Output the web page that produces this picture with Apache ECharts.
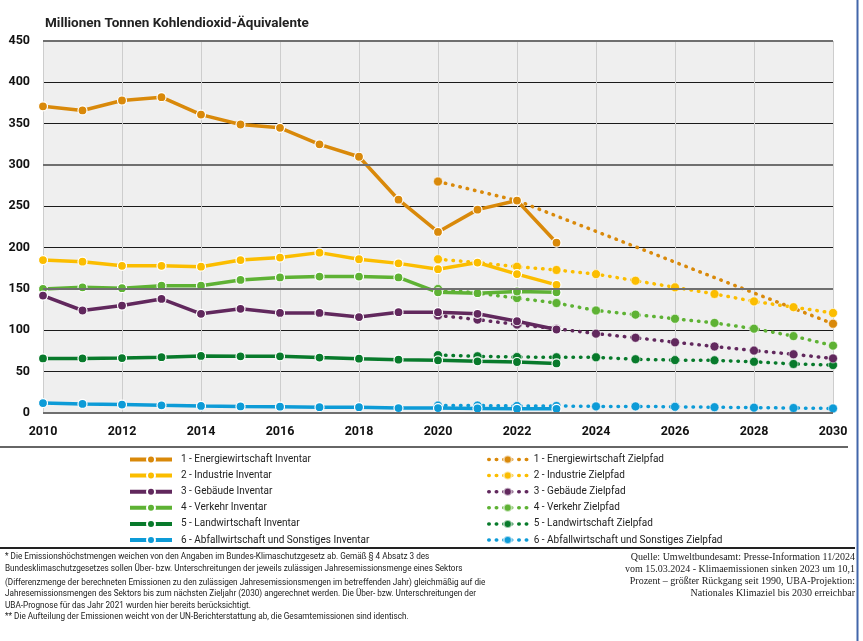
<!DOCTYPE html>
<html>
<head>
<meta charset="utf-8">
<script src="https://cdn.jsdelivr.net/npm/echarts@6/dist/echarts.min.js"></script>
<style>
  html, body { margin: 0; padding: 0; background: #fff; }
  #chart { width: 863px; height: 641px; }
</style>
</head>
<body>
<div id="chart"></div>
<script>
// Jahre (Kategorien)
var years = ['2010','2011','2012','2013','2014','2015','2016','2017','2018','2019','2020',
             '2021','2022','2023','2024','2025','2026','2027','2028','2029','2030'];

// Inventar 2010-2023
var energieInv = [371, 366, 378, 382, 361, 349, 345, 325, 310, 258, 219, 246, 257, 206];
var industrieInv = [185, 183, 178, 178, 177, 185, 188, 194, 186, 181, 174, 182, 168, 155];
var gebaeudeInv = [142, 124, 130, 138, 120, 126, 121, 121, 116, 122, 122, 120, 111, 101];
var verkehrInv = [150, 152, 151, 154, 154, 161, 164, 165, 165, 164, 146, 145, 147, 146];
var landwInv = [66, 66, 66.5, 67.5, 69, 68.6, 68.6, 67, 65.7, 64.5, 63.7, 62.5, 61.7, 60];
var abfallInv = [12, 11, 10.2, 9.3, 8.5, 8, 7.7, 7, 7, 6, 6, 5.5, 5, 5];

// Zielpfad 2020-2030 (null = kein Wert, davor 2010-2019 leer)
var energieZiel = [280, null, 257, null, null, null, null, null, null, null, 108];
var industrieZiel = [186, 182, 177, 173, 168, 160, 152, 144, 135, 128, 121];
var gebaeudeZiel = [118, 113, 107, 102, 96, 91, 85.5, 80.5, 75.5, 71, 66];
var verkehrZiel = [150, 145, 139, 133, 124, 119, 114, 109, 102, 93, 81.5];
var landwZiel = [70, 68.6, 67.7, 67.4, 67.4, 65, 64, 63.7, 62, 59.3, 58];
var abfallZiel = [9, 9, 8.5, 8.5, 8, 8, 7.5, 7, 6.5, 6, 5.5];

var colors = ['#d9890a', '#fbbd00', '#61285d', '#5eb234', '#087a2b', '#0d9bd7'];
var invNames = ['1 - Energiewirtschaft Inventar', '2 - Industrie Inventar', '3 - Gebäude Inventar',
                '4 - Verkehr Inventar', '5 - Landwirtschaft Inventar', '6 - Abfallwirtschaft und Sonstiges Inventar'];
var zielNames = ['1 - Energiewirtschaft Zielpfad', '2 - Industrie Zielpfad', '3 - Gebäude Zielpfad',
                 '4 - Verkehr Zielpfad', '5 - Landwirtschaft Zielpfad', '6 - Abfallwirtschaft und Sonstiges Zielpfad'];
var invData = [energieInv, industrieInv, gebaeudeInv, verkehrInv, landwInv, abfallInv];
var zielData = [energieZiel, industrieZiel, gebaeudeZiel, verkehrZiel, landwZiel, abfallZiel];

var font = 'Roboto, sans-serif';

var series = [];
// kräftige Gitterlinien bei 0/150/300/450
series.push({
    name: 'grid', type: 'line', data: [], z: 1, silent: true,
    markLine: {
        silent: true, symbol: 'none', label: { show: false },
        lineStyle: { color: '#6f6f6f', width: 2, type: 'solid' },
        data: [{ yAxis: 0 }, { yAxis: 150 }, { yAxis: 300 }, { yAxis: 450 }]
    }
});
for (var i = 5; i >= 0; i--) {
    var zd = [];
    for (var k = 0; k < 10; k++) zd.push(null);
    series.push({
        name: zielNames[i], type: 'line', data: zd.concat(zielData[i]), connectNulls: true,
        symbol: 'circle', symbolSize: 9, z: 3,
        itemStyle: { color: colors[i], borderColor: 'rgba(255,255,255,0.6)', borderWidth: 1 },
        lineStyle: { color: colors[i], width: 3.5, type: [0.5, 7], cap: 'round' }
    });
}
for (var j = 5; j >= 0; j--) {
    series.push({
        name: invNames[j], type: 'line', data: invData[j],
        symbol: 'circle', symbolSize: 9, z: 4,
        itemStyle: { color: colors[j], borderColor: '#fff', borderWidth: 1.2 },
        lineStyle: { color: colors[j], width: 3.5 }
    });
}

var footLines = [
    '* Die Emissionshöchstmengen weichen von den Angaben im Bundes-Klimaschutzgesetz ab. Gemäß § 4 Absatz 3 des',
    'Bundesklimaschutzgesetzes sollen Über- bzw. Unterschreitungen der jeweils zulässigen Jahresemissionsmenge eines Sektors',
    '(Differenzmenge der berechneten Emissionen zu den zulässigen Jahresemissionsmengen im betreffenden Jahr) gleichmäßig auf die',
    'Jahresemissionsmengen des Sektors bis zum nächsten Zieljahr (2030) angerechnet werden. Die Über- bzw. Unterschreitungen der',
    'UBA-Prognose für das Jahr 2021 wurden hier bereits berücksichtigt.',
    '** Die Aufteilung der Emissionen weicht von der UN-Berichterstattung ab, die Gesamtemissionen sind identisch.'
];
var footY = [557, 569, 583, 594, 606, 617];
var srcLines = [
    'Quelle: Umweltbundesamt: Presse-Information 11/2024',
    'vom 15.03.2024 - Klimaemissionen sinken 2023 um 10,1',
    'Prozent – größter Rückgang seit 1990, UBA-Projektion:',
    'Nationales Klimaziel bis 2030 erreichbar'
];
var srcY = [557, 569, 581, 593];

var graphics = [
    { type: 'line', shape: { x1: 0, y1: 447, x2: 848, y2: 447 }, style: { stroke: '#666', lineWidth: 2 } },
    { type: 'line', shape: { x1: 0, y1: 548, x2: 855, y2: 548 }, style: { stroke: '#222', lineWidth: 2 } },
    { type: 'line', shape: { x1: 857.5, y1: 0, x2: 857.5, y2: 641 }, style: { stroke: '#4266aa', lineWidth: 2 } }
];
footLines.forEach(function (t, n) {
    graphics.push({ type: 'text', x: 5, y: footY[n], scaleX: 0.86,
        style: { text: t, font: '9.5px ' + font, fill: '#1a1a1a', textVerticalAlign: 'middle' } });
});
srcLines.forEach(function (t, n) {
    graphics.push({ type: 'text', x: 855, y: srcY[n],
        style: { text: t, font: '10px "Liberation Serif", serif', fill: '#222', textAlign: 'right', textVerticalAlign: 'middle' } });
});

var myChart = echarts.init(document.getElementById('chart'));
var option = {
    backgroundColor: '#fff',
    animation: false,
    title: {
        text: 'Millionen Tonnen Kohlendioxid-Äquivalente',
        left: 40, top: 12,
        textStyle: { fontFamily: font, fontSize: 13.5, fontWeight: 'bold', color: '#222' }
    },
    grid: {
        left: 43, right: 30, top: 41, bottom: 228,
        show: true, backgroundColor: '#efefef', borderWidth: 0
    },
    legend: [{
        orient: 'vertical', left: 123, top: 449, itemWidth: 42, itemHeight: 10, itemGap: 5.1,
        data: invNames,
        lineStyle: { width: 4 },
        textStyle: { fontFamily: font, fontSize: 10, lineHeight: 11, color: '#222', padding: [0, 0, 0, 4] }
    }, {
        orient: 'vertical', left: 482, top: 449, itemWidth: 38, itemHeight: 10, itemGap: 5.1,
        data: zielNames,
        lineStyle: { width: 3.5 },
        textStyle: { fontFamily: font, fontSize: 10, lineHeight: 11, color: '#222', padding: [0, 0, 0, 2] }
    }],
    xAxis: {
        type: 'category', data: years, boundaryGap: false,
        axisLine: { show: false },
        axisTick: { show: false },
        axisLabel: { interval: 1, fontFamily: font, fontSize: 12.5, color: '#111', margin: 12, fontWeight: 'bold' },
        splitLine: { show: true, interval: 1, lineStyle: { color: '#cdcdcd', width: 1 } }
    },
    yAxis: {
        type: 'value', min: 0, max: 450, interval: 50,
        axisLine: { show: false },
        axisTick: { show: false },
        axisLabel: { fontFamily: font, fontSize: 12.5, color: '#111', margin: 13, fontWeight: 'bold' },
        splitLine: { lineStyle: { color: '#1a1a1a', width: 1 } }
    },
    graphic: graphics,
    series: series
};
myChart.setOption(option);
</script>
</body>
</html>
